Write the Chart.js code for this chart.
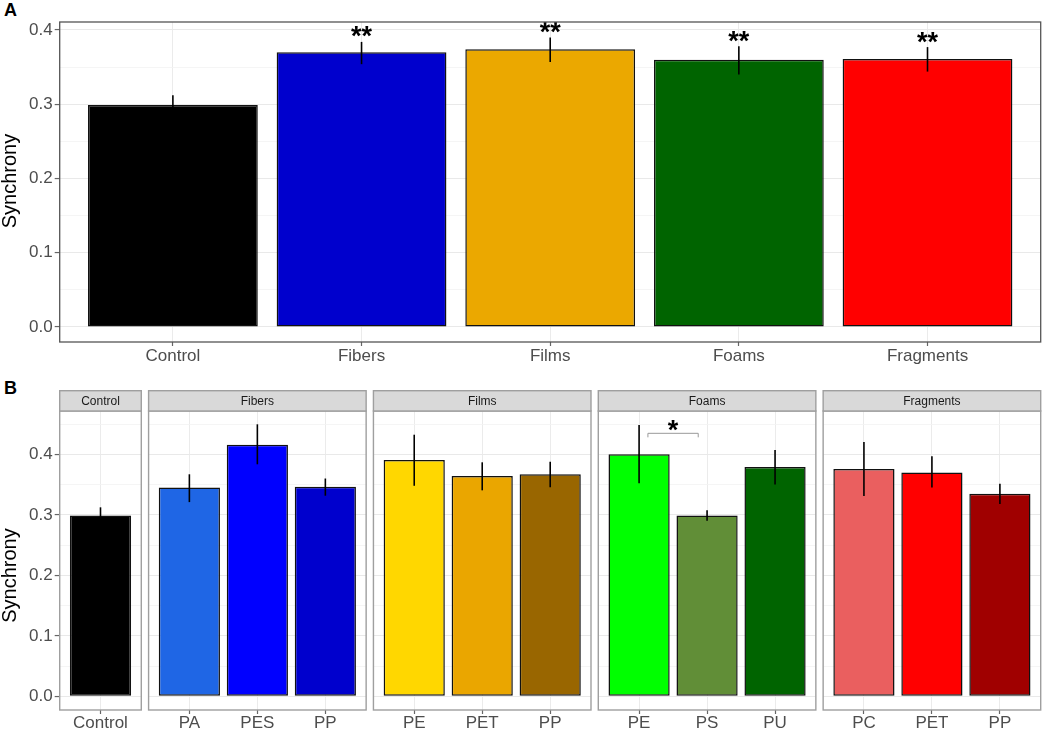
<!DOCTYPE html>
<html>
<head>
<meta charset="utf-8">
<script src="https://cdn.jsdelivr.net/npm/chart.js@4.4.1/dist/chart.umd.min.js"></script>
<style>
  html, body { margin: 0; padding: 0; background: #fff; }
  #wrap { position: relative; width: 1052px; height: 730px; overflow: hidden; font-family: "Liberation Sans", Arial, sans-serif; }
  #wrap canvas { position: absolute; left: 0; }
  .tag { position: absolute; font-weight: bold; font-size: 18px; color: #000; }
</style>
</head>
<body>
<div id="wrap">
  <div class="tag" style="left:4px;top:0px">A</div>
  <div class="tag" style="left:4px;top:378px">B</div>
</div>
<script>
const FONT = '"Liberation Sans", Arial, Helvetica, sans-serif';

// panel A - pooled by shape
const shapesA = ['Control', 'Fibers', 'Films', 'Foams', 'Fragments'];
const meanA = [0.299, 0.370, 0.374, 0.360, 0.361];
const loA = [0.287, 0.354, 0.357, 0.340, 0.344];
const hiA = [0.312, 0.384, 0.390, 0.378, 0.377];
const starsA = ['', '**', '**', '**', '**'];
const colorsA = ['#000000', '#0000CD', '#EBA800', '#006400', '#FF0000'];

// panel B - one facet per shape, polymers inside
const facetsB = ['Control', 'Fibers', 'Films', 'Foams', 'Fragments'];
const polymersB = [['Control'], ['PA', 'PES', 'PP'], ['PE', 'PET', 'PP'], ['PE', 'PS', 'PU'], ['PC', 'PET', 'PP']];
const meanB = [[0.299], [0.345, 0.416, 0.3465], [0.3906, 0.364, 0.367], [0.400, 0.299, 0.379], [0.3757, 0.370, 0.335]];
const loB = [[0.286], [0.321, 0.3835, 0.3316], [0.348, 0.3405, 0.3455], [0.352, 0.290, 0.350], [0.331, 0.345, 0.318]];
const hiB = [[0.3124], [0.367, 0.4496, 0.360], [0.4324, 0.3868, 0.3878], [0.4484, 0.3074, 0.407], [0.4203, 0.397, 0.3515]];
const colorsB = [['#000000'], ['#1F66E5', '#0000FF', '#0000CD'], ['#FFD700', '#EAA600', '#996600'], ['#00FF00', '#618E37', '#006400'], ['#EA5F5F', '#FF0000', '#A00000']];
// PE vs PS in Foams
const bracketFacet = 3;
const bracketPair = [0, 1];
const bracketY = 0.4347;
const bracketLabel = '*';

const yBreaks = [0, 0.05, 0.1, 0.15, 0.2, 0.25, 0.3, 0.35, 0.4, 0.45];

const W = 1052;
const wrap = document.getElementById('wrap');
const isMajor = v => Math.abs(v * 10 - Math.round(v * 10)) < 1e-6;

function addCanvas(top, h) {
  const c = document.createElement('canvas');
  c.width = W;
  c.height = h;
  c.style.top = top + 'px';
  wrap.appendChild(c);
  return c;
}

function decor(cfg) {
  return {
    id: 'decor',
    afterDraw(chart) {
      const { ctx, chartArea: a, scales: { x, y } } = chart;
      ctx.save();
      // error bars
      ctx.strokeStyle = '#000';
      ctx.lineWidth = 1.6;
      cfg.lo.forEach((lo, i) => {
        const px = x.getPixelForValue(i);
        ctx.beginPath();
        ctx.moveTo(px, y.getPixelForValue(lo));
        ctx.lineTo(px, y.getPixelForValue(cfg.hi[i]));
        ctx.stroke();
      });
      ctx.fillStyle = '#000';
      ctx.font = 'bold 27px ' + FONT;
      ctx.textAlign = 'center';
      ctx.textBaseline = 'alphabetic';
      (cfg.stars || []).forEach((s, i) => {
        if (s) ctx.fillText(s, x.getPixelForValue(i), y.getPixelForValue(cfg.hi[i]) + 3.5);
      });
      if (cfg.bracket) {
        const b = cfg.bracket;
        const x0 = x.getPixelForValue(b.pair[0] + 0.13);
        const x1 = x.getPixelForValue(b.pair[1] - 0.13);
        const by = y.getPixelForValue(b.y);
        ctx.strokeStyle = '#9a9a9a';
        ctx.lineWidth = 1;
        ctx.beginPath();
        ctx.moveTo(x0, by + 4);
        ctx.lineTo(x0, by);
        ctx.lineTo(x1, by);
        ctx.lineTo(x1, by + 4);
        ctx.stroke();
        ctx.fillText(b.label, (x0 + x1) / 2, by + 5.5);
      }
      // panel frame
      ctx.strokeStyle = cfg.frame;
      ctx.lineWidth = cfg.frameW;
      ctx.strokeRect(a.left, a.top, a.width, a.height);
      // facet strip
      if (cfg.strip) {
        const sh = 20.3;
        ctx.fillStyle = '#d9d9d9';
        ctx.fillRect(a.left, a.top - sh, a.width, sh);
        ctx.strokeRect(a.left, a.top - sh, a.width, sh);
        ctx.fillStyle = '#1a1a1a';
        ctx.font = '12px ' + FONT;
        ctx.textBaseline = 'middle';
        ctx.fillText(cfg.strip, (a.left + a.right) / 2, a.top - sh / 2 + 0.5);
      }
      if (cfg.yTitle) {
        ctx.translate(10, (a.top + a.bottom) / 2 + cfg.titleShift);
        ctx.rotate(-Math.PI / 2);
        ctx.fillStyle = '#000';
        ctx.font = '20px ' + FONT;
        ctx.textAlign = 'center';
        ctx.textBaseline = 'middle';
        ctx.fillText('Synchrony', 0, 0);
      }
      ctx.restore();
    }
  };
}

function buildPanel(canvas, cfg) {
  const n = cfg.cats.length;
  const span = n - 1 + 1.2;
  return new Chart(canvas, {
    type: 'bar',
    data: {
      datasets: [{
        data: cfg.means.map((v, i) => ({ x: i, y: v })),
        backgroundColor: cfg.colors,
        borderColor: '#111',
        borderWidth: 1.5,
        borderSkipped: false,
        categoryPercentage: 1,
        barPercentage: 0.9 / (n > 1 ? 1 : span)
      }]
    },
    options: {
      responsive: false,
      animation: false,
      devicePixelRatio: 1,
      layout: { padding: cfg.pad },
      plugins: { legend: { display: false }, tooltip: { enabled: false } },
      scales: {
        x: {
          type: 'linear',
          offset: false,
          min: -0.6,
          max: n - 1 + 0.6,
          afterBuildTicks: s => { s.ticks = cfg.cats.map((_, i) => ({ value: i })); },
          afterFit: s => { s.height = cfg.xh; },
          ticks: {
            autoSkip: false, maxRotation: 0, padding: cfg.xpad,
            color: '#4d4d4d', font: { family: FONT, size: 17 },
            callback: v => cfg.cats[v]
          },
          grid: { offset: false, color: '#ebebeb', lineWidth: 1, tickLength: 4, tickColor: '#666', tickWidth: 1.2 },
          border: { display: false }
        },
        y: {
          min: cfg.ymin,
          max: cfg.ymax,
          afterBuildTicks: s => { s.ticks = yBreaks.filter(v => v >= cfg.ymin && v <= cfg.ymax).map(v => ({ value: v })); },
          afterFit: s => { s.width = cfg.yw; },
          ticks: {
            display: cfg.yw > 0, padding: 2,
            color: '#4d4d4d', font: { family: FONT, size: 17 },
            callback: v => isMajor(v) ? v.toFixed(1) : ''
          },
          grid: {
            color: c => isMajor(c.tick.value) ? '#e9e9e9' : '#f3f3f3',
            lineWidth: c => isMajor(c.tick.value) ? 1.1 : 0.8,
            drawTicks: cfg.yw > 0,
            tickLength: 5,
            tickColor: c => isMajor(c.tick.value) ? '#666' : 'rgba(0,0,0,0)',
            tickWidth: 1.2
          },
          border: { display: false }
        }
      }
    },
    plugins: [decor(cfg)]
  });
}

// panel A
buildPanel(addCanvas(0, 370), {
  cats: shapesA, means: meanA, lo: loA, hi: hiA, stars: starsA, colors: colorsA,
  pad: { left: 0, right: W - 1040.7, top: 22, bottom: 0 },
  xh: 28, xpad: 0, yw: 59.7, ymin: -0.0202, ymax: 0.4108,
  frame: '#555', frameW: 1.3, yTitle: true, titleShift: -1
});

// panel B facets
const plotLeft = 59.7, plotRight = 1040.7, facetGap = 7.3;
const facetUnits = polymersB.map(p => p.length + 0.2);
const unitPx = (plotRight - plotLeft - facetGap * (facetUnits.length - 1)) / facetUnits.reduce((s, u) => s + u, 0);
let left = plotLeft;
facetsB.forEach((f, k) => {
  const right = left + facetUnits[k] * unitPx;
  buildPanel(addCanvas(370, 360), {
    cats: polymersB[k], means: meanB[k], lo: loB[k], hi: hiB[k], colors: colorsB[k],
    bracket: k === bracketFacet ? { pair: bracketPair, y: bracketY, label: bracketLabel } : null,
    pad: { left: k === 0 ? 0 : left, right: W - right, top: 41, bottom: 0 },
    xh: 20, xpad: -1, yw: k === 0 ? plotLeft : 0, ymin: -0.0226, ymax: 0.4716,
    frame: '#9f9f9f', frameW: 1.4, strip: f, yTitle: k === 0, titleShift: 15
  });
  left = right + facetGap;
});
</script>
</body>
</html>
